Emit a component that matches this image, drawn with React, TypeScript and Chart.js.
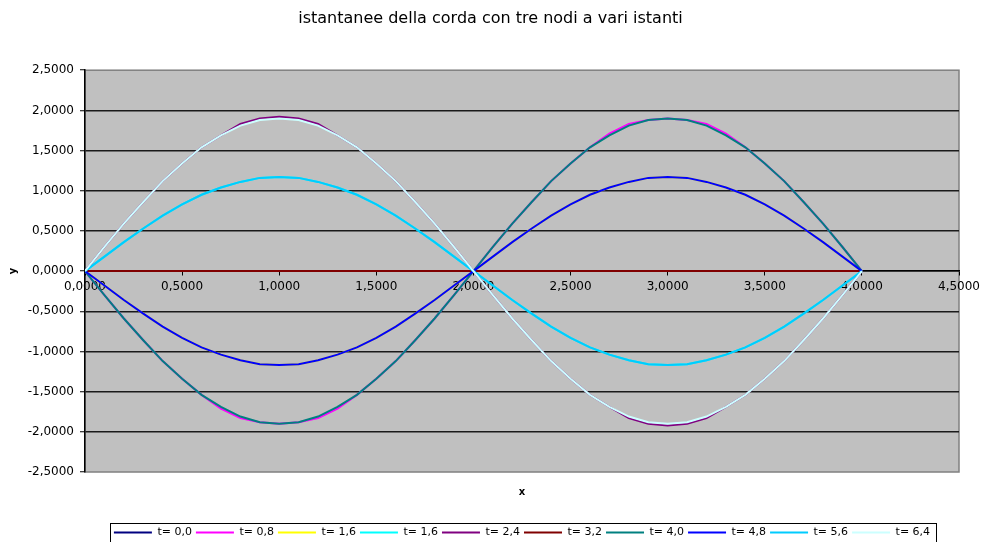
import React, { useEffect, useRef } from 'react';
import { Chart, registerables } from 'chart.js';

Chart.register(...registerables);

const FONT = "'DejaVu Sans', 'Liberation Sans', Arial, sans-serif";

const chartTitle = 'istantanee della corda con tre nodi a vari istanti';

const xValues = [
  0, 0.1, 0.2, 0.3, 0.4, 0.5, 0.6, 0.7, 0.8, 0.9,
  1.0, 1.1, 1.2, 1.3, 1.4, 1.5, 1.6, 1.7, 1.8, 1.9,
  2.0, 2.1, 2.2, 2.3, 2.4, 2.5, 2.6, 2.7, 2.8, 2.9,
  3.0, 3.1, 3.2, 3.3, 3.4, 3.5, 3.6, 3.7, 3.8, 3.9, 4.0,
];

const seriesLabels = ['t= 0,0', 't= 0,8', 't= 1,6', 't= 1,6', 't= 2,4', 't= 3,2', 't= 4,0', 't= 4,8', 't= 5,6', 't= 6,4'];
const seriesColors = ['#000080', '#FF00FF', '#FFFF00', '#00FFFF', '#800080', '#800000', '#008080', '#0000FF', '#00CCFF', '#CCFFFF'];

const yT00 = [
  0, 0, 0, 0, 0, 0, 0, 0, 0, 0, 0, 0, 0, 0, 0, 0, 0, 0, 0, 0, 0,
  0, 0, 0, 0, 0, 0, 0, 0, 0, 0, 0, 0, 0, 0, 0, 0, 0, 0, 0, 0,
];
const yT08 = [
  0, -0.30, -0.59, -0.86, -1.12, -1.34, -1.54, -1.71, -1.83, -1.88, -1.90, -1.88, -1.83, -1.71, -1.54, -1.34, -1.12, -0.86, -0.59, -0.30, 0,
  0.30, 0.59, 0.86, 1.12, 1.34, 1.54, 1.71, 1.83, 1.88, 1.90, 1.88, 1.83, 1.71, 1.54, 1.34, 1.12, 0.86, 0.59, 0.30, 0,
];
const yT16a = [
  0, -0.18, -0.36, -0.53, -0.69, -0.83, -0.95, -1.04, -1.11, -1.16, -1.17, -1.16, -1.11, -1.04, -0.95, -0.83, -0.69, -0.53, -0.36, -0.18, 0,
  0.18, 0.36, 0.53, 0.69, 0.83, 0.95, 1.04, 1.11, 1.16, 1.17, 1.16, 1.11, 1.04, 0.95, 0.83, 0.69, 0.53, 0.36, 0.18, 0,
];
const yT16b = [
  0, 0.18, 0.36, 0.53, 0.69, 0.83, 0.95, 1.04, 1.11, 1.16, 1.17, 1.16, 1.11, 1.04, 0.95, 0.83, 0.69, 0.53, 0.36, 0.18, 0,
  -0.18, -0.36, -0.53, -0.69, -0.83, -0.95, -1.04, -1.11, -1.16, -1.17, -1.16, -1.11, -1.04, -0.95, -0.83, -0.69, -0.53, -0.36, -0.18, 0,
];
const yT24 = [
  0, 0.30, 0.59, 0.86, 1.12, 1.34, 1.54, 1.69, 1.83, 1.90, 1.92, 1.90, 1.83, 1.69, 1.54, 1.34, 1.12, 0.86, 0.59, 0.30, 0,
  -0.30, -0.59, -0.86, -1.12, -1.34, -1.54, -1.69, -1.83, -1.90, -1.92, -1.90, -1.83, -1.69, -1.54, -1.34, -1.12, -0.86, -0.59, -0.30, 0,
];
const yT32 = [
  0, 0, 0, 0, 0, 0, 0, 0, 0, 0, 0, 0, 0, 0, 0, 0, 0, 0, 0, 0, 0,
  0, 0, 0, 0, 0, 0, 0, 0, 0, 0, 0, 0, 0, 0, 0, 0, 0, 0, 0, 0,
];
const yT40 = [
  0, -0.30, -0.59, -0.86, -1.12, -1.34, -1.54, -1.69, -1.81, -1.88, -1.90, -1.88, -1.81, -1.69, -1.54, -1.34, -1.12, -0.86, -0.59, -0.30, 0,
  0.30, 0.59, 0.86, 1.12, 1.34, 1.54, 1.69, 1.81, 1.88, 1.90, 1.88, 1.81, 1.69, 1.54, 1.34, 1.12, 0.86, 0.59, 0.30, 0,
];
const yT48 = [
  0, -0.18, -0.36, -0.53, -0.69, -0.83, -0.95, -1.04, -1.11, -1.16, -1.17, -1.16, -1.11, -1.04, -0.95, -0.83, -0.69, -0.53, -0.36, -0.18, 0,
  0.18, 0.36, 0.53, 0.69, 0.83, 0.95, 1.04, 1.11, 1.16, 1.17, 1.16, 1.11, 1.04, 0.95, 0.83, 0.69, 0.53, 0.36, 0.18, 0,
];
const yT56 = [
  0, 0.18, 0.36, 0.53, 0.69, 0.83, 0.95, 1.04, 1.11, 1.16, 1.17, 1.16, 1.11, 1.04, 0.95, 0.83, 0.69, 0.53, 0.36, 0.18, 0,
  -0.18, -0.36, -0.53, -0.69, -0.83, -0.95, -1.04, -1.11, -1.16, -1.17, -1.16, -1.11, -1.04, -0.95, -0.83, -0.69, -0.53, -0.36, -0.18, 0,
];
const yT64 = [
  0, 0.30, 0.59, 0.86, 1.12, 1.34, 1.54, 1.69, 1.81, 1.88, 1.90, 1.88, 1.81, 1.69, 1.54, 1.34, 1.12, 0.86, 0.59, 0.30, 0,
  -0.30, -0.59, -0.86, -1.12, -1.34, -1.54, -1.69, -1.81, -1.88, -1.90, -1.88, -1.81, -1.69, -1.54, -1.34, -1.12, -0.86, -0.59, -0.30, 0,
];

const seriesValues = [yT00, yT08, yT16a, yT16b, yT24, yT32, yT40, yT48, yT56, yT64];

const xMin = 0;
const xMax = 4.5;
const yMin = -2.5;
const yMax = 2.5;
const tickStep = 0.5;

const fmt = (v: number) => Number(v).toFixed(4).replace('.', ',');

const plotBg = {
  id: 'plotBg',
  beforeDraw(chart: any) {
    const { ctx, chartArea: a } = chart;
    ctx.save();
    ctx.fillStyle = '#C0C0C0';
    ctx.fillRect(a.left, a.top, a.right - a.left, a.bottom - a.top);
    ctx.strokeStyle = '#808080';
    ctx.lineWidth = 1.5;
    ctx.strokeRect(a.left, a.top, a.right - a.left, a.bottom - a.top);
    ctx.restore();
  },
};

const legendBox = {
  id: 'legendBox',
  afterDraw(chart: any) {
    const lg = chart.legend;
    const boxes = lg && lg.legendHitBoxes;
    if (!boxes || !boxes.length) return;
    const { ctx } = chart;
    const left = Math.min(...boxes.map((b: any) => b.left)) - 4;
    const right = Math.max(...boxes.map((b: any) => b.left + b.width)) + 6;
    const top = lg.top;
    ctx.save();
    ctx.strokeStyle = '#000';
    ctx.lineWidth = 1;
    ctx.strokeRect(Math.round(left) + 0.5, Math.round(top) + 0.5, Math.round(right - left), 40);
    ctx.restore();
  },
};

export default function App() {
  const canvasRef = useRef<HTMLCanvasElement | null>(null);

  useEffect(() => {
    const canvas = canvasRef.current;
    if (!canvas) return;
    const n = seriesLabels.length;
    const datasets = seriesLabels.map((label, i) => ({
      label,
      data: xValues.map((x, j) => ({ x, y: seriesValues[i][j] })),
      borderColor: seriesColors[i],
      backgroundColor: seriesColors[i],
      borderWidth: 2,
      pointRadius: 0,
      pointHoverRadius: 0,
      tension: 0,
      fill: false,
      order: n - i,
    }));

    const chart = new Chart(canvas, {
      type: 'line',
      data: { datasets },
      plugins: [plotBg, legendBox],
      options: {
        responsive: false,
        animation: false,
        layout: { padding: { top: 0, left: 0, right: 0, bottom: -6 } },
        plugins: {
          tooltip: { enabled: false },
          title: {
            display: true,
            text: chartTitle,
            color: '#000',
            font: { family: FONT, size: 16, weight: 'normal' },
            padding: { top: 9, bottom: 42 },
          },
          legend: {
            display: true,
            position: 'bottom',
            fullSize: false,
            labels: {
              usePointStyle: true,
              pointStyle: 'line',
              pointStyleWidth: 38,
              color: '#000',
              font: { family: FONT, size: 11 },
              padding: 4,
              sort: (a: any, b: any) => a.datasetIndex - b.datasetIndex,
            },
          },
        },
        scales: {
          x: {
            type: 'linear',
            position: { y: 0 } as any,
            min: xMin,
            max: xMax,
            ticks: {
              stepSize: tickStep,
              autoSkip: false,
              maxRotation: 0,
              color: '#000',
              font: { family: FONT, size: 12, lineHeight: 1.83 },
              padding: 1,
              callback: (v: any) => fmt(v),
            },
            grid: { drawOnChartArea: false, tickLength: 4, color: '#000', lineWidth: 1 },
            border: { display: true, color: '#000', width: 1.5 },
          },
          xb: {
            type: 'linear',
            axis: 'x',
            position: 'bottom',
            min: xMin,
            max: xMax,
            ticks: { display: false },
            grid: { display: false },
            border: { display: false },
            title: {
              display: true,
              text: 'x',
              color: '#000',
              font: { family: FONT, size: 10, weight: 'bold' },
              padding: { top: 0, bottom: 25 },
            },
            afterFit: (s: any) => { s.height = 51; },
          },
          y: {
            type: 'linear',
            position: 'left',
            min: yMin,
            max: yMax,
            ticks: {
              stepSize: tickStep,
              autoSkip: false,
              color: '#000',
              font: { family: FONT, size: 12 },
              padding: 6,
              callback: (v: any) => fmt(v),
            },
            grid: {
              color: (c: any) => (c.tick && Math.abs(c.tick.value) === 2.5 ? 'rgba(0,0,0,0)' : '#1a1a1a'),
              lineWidth: 1.5,
              tickColor: '#000',
              tickLength: 5,
              tickWidth: 1,
            },
            border: { display: true, color: '#000', width: 1.5 },
            title: {
              display: true,
              text: 'y',
              color: '#000',
              font: { family: FONT, size: 10, weight: 'bold' },
              padding: { top: 7, bottom: 0 },
            },
            afterFit: (s: any) => { s.width = 85; },
          },
          yr: {
            type: 'linear',
            axis: 'y',
            position: 'right',
            min: yMin,
            max: yMax,
            ticks: { display: false },
            grid: { display: false },
            border: { display: false },
            afterFit: (s: any) => { s.width = 22; },
          },
        },
      } as any,
    });
    return () => chart.destroy();
  }, []);

  return (
    <div style={{ position: 'absolute', left: 0, top: 0, width: 981, height: 542, background: '#fff' }}>
      <canvas ref={canvasRef} width={981} height={542} style={{ display: 'block' }} />
    </div>
  );
}
